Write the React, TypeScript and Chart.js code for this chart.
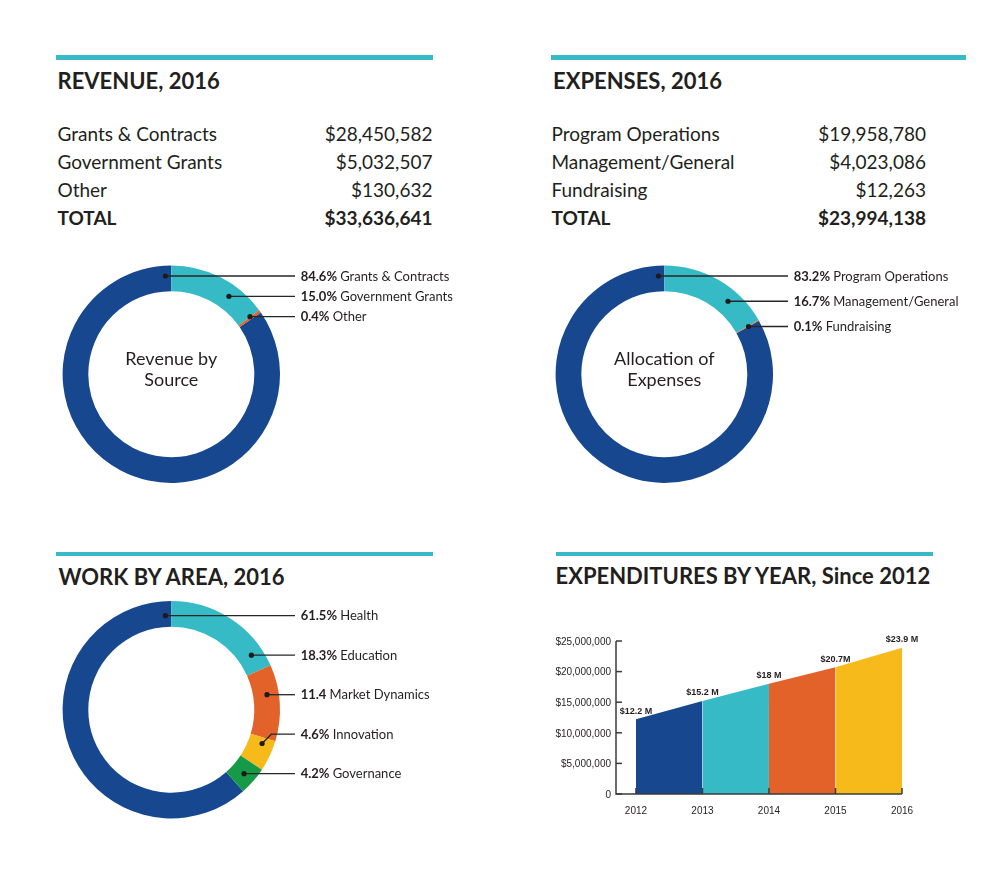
import React, { useEffect, useRef } from "react";
import { Chart, registerables } from "chart.js";

Chart.register(...registerables);

// ---------- palette ----------
const NAVY = "#17488F";
const CYAN = "#36BAC6";
const ORANGE = "#E2622A";
const YELLOW = "#F6BB1A";
const GREEN = "#179A48";
const INK = "#231F20";

// ---------- data ----------
const revenueCategories = ["Grants & Contracts", "Government Grants", "Other"];
const revenueAmounts = ["$28,450,582", "$5,032,507", "$130,632"];
const revenueTotal = "$33,636,641";
const revenueShares = [84.6, 15.0, 0.4];
const revenueShareLabels = ["84.6%", "15.0%", "0.4%"];

const expenseCategories = ["Program Operations", "Management/General", "Fundraising"];
const expenseAmounts = ["$19,958,780", "$4,023,086", "$12,263"];
const expenseTotal = "$23,994,138";
const expenseShares = [83.2, 16.7, 0.1];
const expenseShareLabels = ["83.2%", "16.7%", "0.1%"];

const workCategories = ["Health", "Education", "Market Dynamics", "Innovation", "Governance"];
const workShares = [61.5, 18.3, 11.4, 4.6, 4.2];
const workShareLabels = ["61.5%", "18.3%", "11.4", "4.6%", "4.2%"];

const years = [2012, 2013, 2014, 2015, 2016];
const expenditures = [12200000, 15200000, 18000000, 20700000, 23900000];
const expenditureLabels = ["$12.2 M", "$15.2 M", "$18 M", "$20.7M", "$23.9 M"];
const yTickValues = [0, 5000000, 10000000, 15000000, 20000000, 25000000];

// ---------- donut ----------
type DonutProps = {
  left: number;
  top: number;
  width: number;
  height: number;
  cx: number;
  cy: number;
  values: number[];
  colors: string[];
  pctLabels: string[];
  names: string[];
  centerLines: string[];
  firstDy: number;
  spacing: number;
};

const R_OUT = 108.7;
const R_IN = 83;

function Donut(p: DonutProps) {
  const ref = useRef<HTMLCanvasElement>(null);
  useEffect(() => {
    const total = p.values.reduce((a, b) => a + b, 0);
    const deg = Math.PI / 180;
    const leaderPlugin = {
      id: "leaders",
      afterDatasetsDraw(chart: any) {
        const ctx: CanvasRenderingContext2D = chart.ctx;
        const arcs = chart.getDatasetMeta(0).data as any[];
        if (!arcs.length) return;
        const cx = arcs[0].x;
        const cy = arcs[0].y;
        const rMid = (arcs[0].innerRadius + arcs[0].outerRadius) / 2 + 1;
        const lineEnd = cx + 123.7;
        const textX = cx + 129.4;
        ctx.save();
        // center text
        ctx.fillStyle = INK;
        ctx.font = "18px Lato";
        ctx.textAlign = "center";
        ctx.textBaseline = "alphabetic";
        if (p.centerLines.length === 2) {
          ctx.fillText(p.centerLines[0], cx, cy - 9.2);
          ctx.fillText(p.centerLines[1], cx, cy + 11.6);
        }
        ctx.textAlign = "left";
        p.names.forEach((name, i) => {
          const arc = arcs[i];
          const ly = cy + p.firstDy + i * p.spacing;
          let s = arc.startAngle + Math.PI / 2;
          let e = arc.endAngle + Math.PI / 2;
          while (s >= 2 * Math.PI) {
            s -= 2 * Math.PI;
            e -= 2 * Math.PI;
          }
          const dy = ly - cy;
          let theta = 0;
          if (Math.abs(dy) <= rMid) {
            theta = Math.atan2(Math.sqrt(rMid * rMid - dy * dy), -dy);
          }
          const m = Math.min(3.5 * deg, (e - s) * 0.25);
          const lo = s + m;
          const hi = e - m;
          let best = theta;
          let bestDiff = Infinity;
          for (const cand of [theta, theta + 2 * Math.PI]) {
            const c = Math.min(hi, Math.max(lo, cand));
            const d = Math.abs(c - cand);
            if (d < bestDiff) {
              bestDiff = d;
              best = c;
            }
          }
          let dx0 = cx + rMid * Math.sin(best);
          let dy0 = cy - rMid * Math.cos(best);
          if (Math.abs(dy0 - ly) < 4) dy0 = ly;
          ctx.strokeStyle = "#262626";
          ctx.lineWidth = 1.3;
          ctx.beginPath();
          ctx.moveTo(dx0, dy0);
          if (dy0 !== ly) {
            ctx.lineTo(dx0 + Math.abs(ly - dy0), ly);
          }
          ctx.lineTo(lineEnd, ly);
          ctx.stroke();
          ctx.fillStyle = "#1b1b1b";
          ctx.beginPath();
          ctx.arc(dx0, dy0, 2.6, 0, Math.PI * 2);
          ctx.fill();
          ctx.fillStyle = INK;
          ctx.font = "bold 13px Lato";
          const pct = p.pctLabels[i] + " ";
          ctx.fillText(pct, textX, ly + 4.7);
          const w = ctx.measureText(pct).width;
          ctx.font = "13px Lato";
          ctx.fillText(name, textX + w, ly + 4.7);
        });
        ctx.restore();
      },
    };
    const chart = new Chart(ref.current!, {
      type: "doughnut",
      data: {
        labels: p.names,
        datasets: [
          {
            data: p.values,
            backgroundColor: p.colors,
            borderWidth: 0,
            hoverOffset: 0,
            offset: 0,
          },
        ],
      },
      options: {
        animation: false,
        responsive: false,
        events: [],
        rotation: (1 - p.values[0] / total) * 360,
        cutout: R_IN,
        layout: {
          padding: {
            left: p.cx - R_OUT,
            right: p.width - p.cx - R_OUT,
            top: p.cy - R_OUT,
            bottom: p.height - p.cy - R_OUT,
          },
        },
        plugins: { legend: { display: false }, tooltip: { enabled: false } },
      } as any,
      plugins: [leaderPlugin],
    });
    return () => chart.destroy();
  }, []);
  return (
    <canvas
      ref={ref}
      width={p.width}
      height={p.height}
      style={{ position: "absolute", left: p.left, top: p.top, width: p.width, height: p.height }}
    />
  );
}

// ---------- area chart ----------
function AreaChart() {
  const ref = useRef<HTMLCanvasElement>(null);
  useEffect(() => {
    const segColors = [NAVY, CYAN, ORANGE, YELLOW];
    const axesPlugin = {
      id: "customAxes",
      afterDatasetsDraw(chart: any) {
        const ctx: CanvasRenderingContext2D = chart.ctx;
        const xs = chart.scales.x;
        const ys = chart.scales.y;
        const x0 = chart.chartArea.left;
        const y0 = ys.getPixelForValue(0);
        const yTop = ys.getPixelForValue(yTickValues[yTickValues.length - 1]);
        const xEnd = xs.getPixelForValue(years[years.length - 1]);
        ctx.save();
        ctx.strokeStyle = "#3b3b3b";
        ctx.lineWidth = 1.5;
        ctx.beginPath();
        ctx.moveTo(x0, yTop);
        ctx.lineTo(x0, y0);
        ctx.lineTo(xEnd, y0);
        ctx.stroke();
        // y ticks
        ctx.fillStyle = INK;
        ctx.font = "10px 'Liberation Sans'";
        ctx.textAlign = "right";
        ctx.textBaseline = "middle";
        yTickValues.forEach((v) => {
          const py = ys.getPixelForValue(v);
          ctx.beginPath();
          ctx.moveTo(x0, py);
          ctx.lineTo(x0 + 6, py);
          ctx.stroke();
          const label = v === 0 ? "0" : "$" + v.toLocaleString("en-US");
          ctx.fillText(label, x0 - 5, py + 1);
        });
        // x ticks
        ctx.textAlign = "center";
        years.forEach((yr) => {
          const px = xs.getPixelForValue(yr);
          ctx.beginPath();
          ctx.moveTo(px, y0);
          ctx.lineTo(px, y0 - 6);
          ctx.stroke();
          ctx.fillText(String(yr), px, y0 + 17.5);
        });
        // value labels
        ctx.font = "bold 9px 'Liberation Sans'";
        ctx.textBaseline = "alphabetic";
        years.forEach((yr, i) => {
          const px = xs.getPixelForValue(yr);
          const py = ys.getPixelForValue(expenditures[i]);
          ctx.fillText(expenditureLabels[i], px, py - 5.5);
        });
        ctx.restore();
      },
    };
    const chart = new Chart(ref.current!, {
      type: "line",
      data: {
        datasets: [
          {
            data: years.map((yr, i) => ({ x: yr, y: expenditures[i] })),
            fill: "origin",
            backgroundColor: segColors[0],
            borderWidth: 0,
            borderColor: "rgba(0,0,0,0)",
            pointRadius: 0,
            tension: 0,
            segment: {
              backgroundColor: (c: any) => segColors[c.p0DataIndex],
            },
          } as any,
        ],
      },
      options: {
        animation: false,
        responsive: false,
        events: [],
        layout: { padding: { left: 76, right: 38, top: 21, bottom: 36 } },
        scales: {
          x: { type: "linear", min: 2011.7, max: 2016, display: false },
          y: { min: 0, max: 25000000, display: false },
        },
        plugins: { legend: { display: false }, tooltip: { enabled: false } },
      } as any,
      plugins: [axesPlugin],
    });
    return () => chart.destroy();
  }, []);
  return (
    <canvas
      ref={ref}
      width={400}
      height={210}
      style={{ position: "absolute", left: 540, top: 620, width: 400, height: 210 }}
    />
  );
}

// ---------- html pieces ----------
function Rule({ left, top, width, height }: { left: number; top: number; width: number; height: number }) {
  return <div style={{ position: "absolute", left, top, width, height, background: CYAN }} />;
}

function Title({ left, top, text }: { left: number; top: number; text: string }) {
  return (
    <div
      style={{
        position: "absolute",
        left,
        top,
        fontSize: 22,
        lineHeight: "22px",
        fontWeight: 700,
        whiteSpace: "nowrap",
        color: INK,
      }}
    >
      {text}
    </div>
  );
}

function Table({
  left,
  right,
  names,
  amounts,
  total,
}: {
  left: number;
  right: number;
  names: string[];
  amounts: string[];
  total: string;
}) {
  const rows = [...names.map((n, i) => [n, amounts[i], false] as const), ["TOTAL", total, true] as const];
  return (
    <>
      {rows.map(([n, a, bold], i) => (
        <div
          key={i}
          style={{
            position: "absolute",
            left,
            width: right - left,
            top: 123.9 + i * 28.1,
            fontSize: 19,
            lineHeight: "19px",
            fontWeight: bold ? 700 : 400,
            display: "flex",
            justifyContent: "space-between",
            whiteSpace: "nowrap",
            color: INK,
          }}
        >
          <span>{n}</span>
          <span>{a}</span>
        </div>
      ))}
    </>
  );
}

export default function App() {
  return (
    <div
      style={{
        position: "absolute",
        left: 0,
        top: 0,
        width: 1000,
        height: 877,
        background: "#fff",
        fontFamily: "Lato, sans-serif",
        overflow: "hidden",
      }}
    >
      <Rule left={56} top={55} width={377} height={5} />
      <Rule left={551} top={55} width={415} height={5} />
      <Rule left={56} top={551.5} width={377} height={4.5} />
      <Rule left={556} top={551.5} width={377} height={4.5} />

      <Title left={57.5} top={69.5} text="REVENUE, 2016" />
      <Title left={553} top={69.5} text="EXPENSES, 2016" />
      <Title left={58.5} top={565.5} text="WORK BY AREA, 2016" />
      <Title left={555.5} top={564.8} text="EXPENDITURES BY YEAR, Since 2012" />

      <Table left={57.5} right={432.5} names={revenueCategories} amounts={revenueAmounts} total={revenueTotal} />
      <Table left={551.5} right={926} names={expenseCategories} amounts={expenseAmounts} total={expenseTotal} />

      <Donut
        left={40}
        top={255}
        width={460}
        height={240}
        cx={131.3}
        cy={119.2}
        values={revenueShares}
        colors={[NAVY, CYAN, ORANGE]}
        pctLabels={revenueShareLabels}
        names={revenueCategories}
        centerLines={["Revenue by", "Source"]}
        firstDy={-98.2}
        spacing={20.35}
      />
      <Donut
        left={530}
        top={255}
        width={460}
        height={240}
        cx={134.3}
        cy={119.2}
        values={expenseShares}
        colors={[NAVY, CYAN, ORANGE]}
        pctLabels={expenseShareLabels}
        names={expenseCategories}
        centerLines={["Allocation of", "Expenses"]}
        firstDy={-98.2}
        spacing={25.25}
      />
      <Donut
        left={40}
        top={590}
        width={460}
        height={240}
        cx={131.3}
        cy={119.7}
        values={workShares}
        colors={[NAVY, CYAN, ORANGE, YELLOW, GREEN]}
        pctLabels={workShareLabels}
        names={workCategories}
        centerLines={[]}
        firstDy={-94}
        spacing={39.5}
      />
      <AreaChart />
    </div>
  );
}
